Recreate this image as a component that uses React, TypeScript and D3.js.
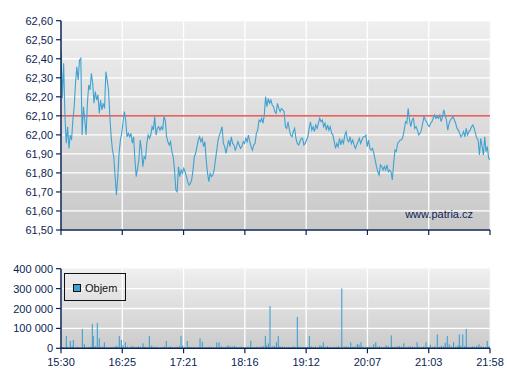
import React from "react";
import * as d3 from "d3";

// ---- DATA ----
const timeLabels = ["15:30", "16:25", "17:21", "18:16", "19:12", "20:07", "21:03", "21:58"];
const sessionMinutes = 388; // 15:30 -> 21:58
const refPrice = 62.1;
const priceTicks = [61.5, 61.6, 61.7, 61.8, 61.9, 62.0, 62.1, 62.2, 62.3, 62.4, 62.5, 62.6];
const volumeTicks = [0, 100000, 200000, 300000, 400000];

const priceA = [62.437, 62.192, 62.376, 62.096, 61.956, 62.043, 61.929, 61.999, 61.973, 62.078, 62.148, 62.271, 62.358, 62.288, 62.393, 62.402, 61.999, 62.148, 62.078, 61.999, 62.166, 62.262, 62.236, 62.323, 62.271, 62.166, 62.227, 62.183, 62.21, 62.113, 62.183, 62.131, 62.166, 62.139, 62.332, 62.288, 62.236, 62.096, 61.99, 61.92, 61.885, 61.78, 61.684, 61.78, 61.903, 61.973, 62.008, 62.069, 62.122, 62.078, 61.99, 62.008, 61.99, 62.008, 61.956, 61.99, 61.868, 61.78, 61.824, 61.868, 61.973, 61.92, 61.833, 61.885, 61.876, 61.956, 61.999, 61.982, 61.999, 62.043, 62.025, 62.096, 61.999, 62.034, 62.043, 62.025, 62.043, 62.025, 62.096, 62.078, 61.99, 61.964];
const priceB = [61.947, 61.964, 61.912, 61.885, 61.815, 61.71, 61.701, 61.833, 61.78, 61.815, 61.798, 61.824, 61.806, 61.78, 61.754, 61.736, 61.745, 61.763, 61.815, 61.885, 61.903, 61.938, 61.973, 61.99, 61.964, 61.982, 61.938, 61.964, 61.868, 61.798, 61.754, 61.798, 61.78, 61.789, 61.815, 61.868, 61.92, 61.973, 61.999, 62.017, 62.043, 61.955, 61.938, 61.903, 61.938, 61.973, 61.938, 61.99, 61.955, 61.947, 61.92, 61.938, 61.964, 61.947, 61.929, 61.938, 61.964, 61.955, 61.982, 61.964, 61.999, 61.964, 61.938, 61.92, 61.947, 61.955, 62.008, 62.025, 62.078, 62.069, 62.087, 62.061, 62.104, 62.201, 62.148, 62.192, 62.166, 62.183, 62.157, 62.148, 62.122, 62.113];
const priceC = [62.166, 62.139, 62.122, 62.139, 62.131, 62.122, 62.043, 62.034, 62.069, 62.025, 61.999, 61.99, 62.017, 62.034, 61.982, 61.955, 61.947, 61.964, 61.982, 61.982, 61.947, 61.955, 61.973, 61.99, 62.034, 62.069, 62.025, 62.043, 62.017, 62.052, 62.034, 62.061, 62.087, 62.069, 62.078, 62.043, 62.061, 62.025, 62.052, 62.025, 62.043, 62.008, 61.999, 61.964, 61.929, 61.955, 61.938, 61.982, 61.947, 61.973, 61.955, 61.999, 62.017, 61.973, 61.964, 61.99, 61.955, 61.973, 61.947, 61.929, 61.947, 61.964, 61.982, 61.955, 61.973, 61.99, 61.99, 61.999, 61.938, 61.973, 61.929, 61.92, 61.929, 61.903, 61.868, 61.833, 61.806, 61.789];
const priceD = [61.842, 61.833, 61.815, 61.833, 61.815, 61.842, 61.806, 61.815, 61.806, 61.763, 61.85, 61.92, 61.912, 61.955, 61.964, 61.973, 61.973, 61.99, 62.025, 62.069, 62.061, 62.139, 62.078, 62.043, 62.078, 62.087, 62.034, 62.043, 62.025, 61.999, 62.008, 62.025, 62.061, 62.096, 62.078, 62.069, 62.052, 62.043, 62.061, 62.069, 62.087, 62.104, 62.087, 62.096, 62.087, 62.104, 62.069, 62.096, 62.131, 62.104, 62.078, 62.025, 62.061, 62.078, 62.087, 62.096, 62.078, 62.061, 62.034, 62.025, 62.008, 61.99, 61.999, 62.017, 61.99, 62.034, 61.999, 62.017, 62.025, 62.043, 62.052, 62.034, 62.008, 61.982, 61.973, 61.894, 61.982, 61.938, 61.894, 61.99, 61.912, 61.938, 61.876, 61.868];

// volume bars: minutes after 15:30, traded volume
const volumeMinutes = [0, 2, 4.8, 6, 8.4, 10, 11.1, 13, 15, 17, 19.3, 21.1, 23, 25, 27, 28.3, 29.2, 31, 32.8, 34.6, 36, 37.5, 39.2, 41, 43, 45, 47, 49, 50.5, 52.7, 54.5, 56, 58.2, 60, 62, 64, 66, 68, 70, 72, 74.2, 76, 78, 79.9, 82, 84, 86, 88, 90, 92, 93.5, 95.2, 97, 99, 101, 103, 105, 107, 108.5, 110, 112, 114.2, 116, 118, 120, 122, 124, 125.7, 127.8, 130, 132, 134, 136, 138, 140.8, 142.9, 145, 147, 149, 151, 153, 155, 157, 159, 161, 163, 165, 167, 169, 171.6, 173, 175, 177, 179, 181, 183, 184.8, 186, 187.5, 189, 191, 193, 194.8, 196.5, 198, 200, 202, 204, 206, 208, 210, 212, 213.7, 215, 217, 219, 221, 222.8, 224.6, 226, 228, 230, 232, 234, 235.5, 237.2, 239, 241, 243, 245, 247, 249, 251, 253.9, 256, 258, 260, 262, 264, 266, 268, 269.5, 271.3, 273, 275, 277, 279, 281, 282.7, 284.6, 286, 288, 290, 292, 294, 296, 298.7, 300, 302, 304, 306, 308, 310, 312, 314, 316, 318, 320, 322, 324, 326, 328, 330, 332, 334, 336, 338, 340.3, 342, 344, 346, 347.5, 349.3, 351, 353, 355, 357, 359, 360.2, 361.5, 363.3, 365, 366.5, 368, 370, 372, 374, 376, 378, 380, 382, 384, 385.5, 387];
const volumeValues = [8000, 5000, 62000, 6000, 37000, 9000, 42000, 5000, 7000, 4000, 97000, 20000, 5000, 6000, 8000, 122000, 62000, 10000, 127000, 50000, 6000, 8000, 30000, 5000, 4000, 6000, 5000, 8000, 12000, 62000, 42000, 15000, 30000, 9000, 5000, 12000, 8000, 6000, 10000, 6000, 25000, 8000, 5000, 62000, 14000, 6000, 8000, 5000, 4000, 6000, 8000, 37000, 6000, 9000, 5000, 6000, 8000, 10000, 62000, 14000, 6000, 37000, 8000, 5000, 6000, 4000, 6000, 50000, 33000, 6000, 5000, 8000, 6000, 5000, 30000, 30000, 10000, 5000, 8000, 15000, 10000, 8000, 12000, 6000, 5000, 8000, 6000, 5000, 8000, 38000, 6000, 5000, 8000, 6000, 9000, 10000, 62000, 15000, 25000, 212000, 10000, 12000, 30000, 62000, 10000, 8000, 8000, 6000, 7000, 5000, 10000, 6000, 157000, 8000, 6000, 5000, 6000, 8000, 62000, 10000, 6000, 9000, 5000, 15000, 12000, 30000, 8000, 10000, 6000, 5000, 8000, 6000, 10000, 301000, 8000, 10000, 6000, 30000, 8000, 10000, 22000, 18000, 30000, 8000, 5000, 6000, 8000, 6000, 20000, 30000, 8000, 10000, 6000, 5000, 15000, 10000, 65000, 6000, 8000, 10000, 12000, 8000, 25000, 6000, 8000, 10000, 8000, 6000, 30000, 8000, 6000, 10000, 30000, 8000, 18000, 6000, 10000, 70000, 8000, 12000, 10000, 28000, 62000, 20000, 10000, 30000, 8000, 15000, 70000, 12000, 70000, 10000, 97000, 8000, 6000, 10000, 8000, 12000, 20000, 10000, 8000, 6000, 37000, 10000];

// ---- LAYOUT ----
const W = 507;
const H = 380;
const X0 = 61;
const X1 = 490;
const PT = 20.7;
const PB = 230;
const VT = 268.7;
const VB = 348.3;
const NAVY = "#0c2455";
const LINE = "#3ea2d2";
const FONT = "Arial, 'Liberation Sans', sans-serif";

export default function App() {
  const prices = [...priceA, ...priceB, ...priceC, ...priceD];
  const x = d3.scaleLinear().domain([0, sessionMinutes]).range([X0, X1]);
  const yP = d3.scaleLinear().domain([61.5, 62.6]).range([PB, PT]);
  const yV = d3.scaleLinear().domain([0, 400000]).range([VB, VT]);
  const n = prices.length;
  const pts: [number, number][] = prices.map((p, i) => [(i / (n - 1)) * sessionMinutes, p]);
  const line = d3
    .line<[number, number]>()
    .x((d) => x(d[0]))
    .y((d) => yP(d[1]));
  const tickMin = timeLabels.map((_, i) => (i * sessionMinutes) / (timeLabels.length - 1));
  const fmtP = (v: number) => v.toFixed(2).replace(".", ",");
  const fmtV = (v: number) => (v === 0 ? "0" : d3.format(",")(v).replace(/,/g, " "));

  return (
    <svg width={W} height={H} style={{ position: "absolute", left: 0, top: 0, background: "#fff" }} fontFamily={FONT}>
      <defs>
        <linearGradient id="gP" x1="0" y1="0" x2="0" y2="1">
          <stop offset="0" stopColor="#efefef" />
          <stop offset="1" stopColor="#c8c8c8" />
        </linearGradient>
        <linearGradient id="gV" x1="0" y1="0" x2="0" y2="1">
          <stop offset="0" stopColor="#efefef" />
          <stop offset="1" stopColor="#cbcbcb" />
        </linearGradient>
        <clipPath id="cP">
          <rect x={X0} y={PT} width={X1 - X0} height={PB - PT} />
        </clipPath>
      </defs>

      {/* price panel */}
      <rect x={X0} y={PT} width={X1 - X0} height={PB - PT} fill="url(#gP)" stroke="#f7f7f7" strokeWidth={1} />
      {priceTicks.slice(1).map((t) => (
        <line key={"gp" + t} x1={X0} x2={X1} y1={yP(t)} y2={yP(t)} stroke="#fff" strokeWidth={1.3} />
      ))}
      {tickMin.slice(1, -1).map((m) => (
        <line key={"gx" + m} x1={x(m)} x2={x(m)} y1={PT} y2={PB} stroke="#fff" strokeWidth={1.3} />
      ))}
      <line x1={X0} x2={X1} y1={yP(refPrice)} y2={yP(refPrice)} stroke="#e0302a" strokeWidth={1.2} />
      <path d={line(pts) || ""} fill="none" stroke={LINE} strokeWidth={1.1} clipPath="url(#cP)" />
      <text x={473} y={218} textAnchor="end" fontSize={11} fill={NAVY}>
        www.patria.cz
      </text>
      <line x1={X0} x2={X0} y1={PT} y2={PB} stroke={NAVY} strokeWidth={1.5} />
      <line x1={X0} x2={X1} y1={PB} y2={PB} stroke={NAVY} strokeWidth={1.5} />
      {priceTicks.map((t) => (
        <g key={"tp" + t}>
          <line x1={X0 - 5} x2={X0} y1={yP(t)} y2={yP(t)} stroke={NAVY} strokeWidth={1.2} />
          <text x={53} y={yP(t) + 4} textAnchor="end" fontSize={11} fill={NAVY}>
            {fmtP(t)}
          </text>
        </g>
      ))}
      {tickMin.map((m) => (
        <line key={"tx" + m} x1={x(m)} x2={x(m)} y1={PB} y2={PB + 5} stroke={NAVY} strokeWidth={1.2} />
      ))}

      {/* volume panel */}
      <rect x={X0} y={VT} width={X1 - X0} height={VB - VT} fill="url(#gV)" stroke="#f7f7f7" strokeWidth={1} />
      {volumeTicks.slice(1, -1).map((t) => (
        <line key={"gv" + t} x1={X0} x2={X1} y1={yV(t)} y2={yV(t)} stroke="#fff" strokeWidth={1.3} />
      ))}
      {tickMin.slice(1, -1).map((m) => (
        <line key={"gvx" + m} x1={x(m)} x2={x(m)} y1={VT} y2={VB} stroke="#fff" strokeWidth={1.3} />
      ))}
      {volumeMinutes.map((m, i) => (
        <rect
          key={"v" + i}
          x={x(m) - 0.5}
          y={yV(volumeValues[i])}
          width={1.1}
          height={VB - yV(volumeValues[i])}
          fill={LINE}
        />
      ))}
      <rect x={64.5} y={273.5} width={61} height={27} fill="none" stroke="#111" strokeWidth={1} />
      <rect x={73.5} y={284.5} width={7} height={7} fill={LINE} stroke="#111" strokeWidth={1} />
      <text x={85} y={292} fontSize={11} fill="#111">
        Objem
      </text>
      <line x1={X0} x2={X0} y1={VT} y2={VB} stroke={NAVY} strokeWidth={1.5} />
      <line x1={X0} x2={X1} y1={VB} y2={VB} stroke={NAVY} strokeWidth={1.5} />
      {volumeTicks.map((t) => (
        <g key={"tv" + t}>
          <line x1={X0 - 5} x2={X0} y1={yV(t)} y2={yV(t)} stroke={NAVY} strokeWidth={1.2} />
          <text x={53} y={yV(t) + 4} textAnchor="end" fontSize={11} fill={NAVY}>
            {fmtV(t)}
          </text>
        </g>
      ))}
      {tickMin.map((m, i) => (
        <g key={"tl" + m}>
          <line x1={x(m)} x2={x(m)} y1={VB} y2={VB + 5} stroke={NAVY} strokeWidth={1.2} />
          <text x={x(m)} y={366} textAnchor="middle" fontSize={11} fill={NAVY}>
            {timeLabels[i]}
          </text>
        </g>
      ))}
    </svg>
  );
}
